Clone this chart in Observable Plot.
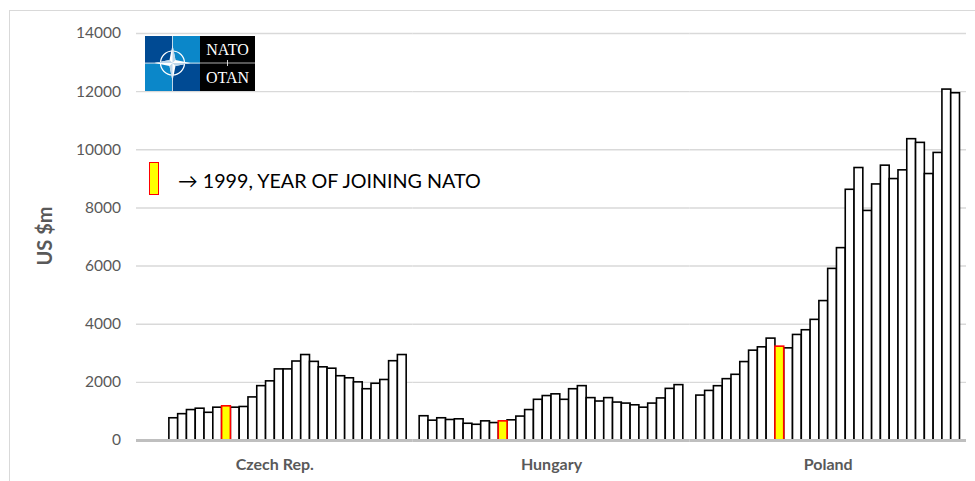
<!DOCTYPE html>
<html>
<head>
<meta charset="utf-8">
<script src="https://cdn.jsdelivr.net/npm/d3@7"></script>
<script src="https://cdn.jsdelivr.net/npm/@observablehq/plot@0.6"></script>
<style>
  html, body { margin: 0; padding: 0; background: #fff; }
  #wrap { position: relative; width: 975px; height: 481px; overflow: hidden; font-family: Lato, "Open Sans", sans-serif; }
  #wrap > svg.plot { position: absolute; left: 0; top: 0; }
  #border { position: absolute; left: 9px; top: 10px; width: 980px; height: 480px; border: 1px solid #d9d9d9; box-sizing: border-box; }
  #ylabel { position: absolute; left: 44px; top: 236px; transform: translate(-50%, -50%) rotate(-90deg); font-weight: 700; font-size: 20px; color: #595959; white-space: nowrap; }
  #legend-swatch { position: absolute; left: 149px; top: 162px; width: 10px; height: 33px; background: #ffff00; border: 1.5px solid #ff0000; box-sizing: border-box; }
  #legend-text { position: absolute; left: 178px; top: 169px; font-size: 19.7px; color: #000; white-space: nowrap; line-height: 24px; }
  #logo { position: absolute; left: 145px; top: 36px; }
</style>
</head>
<body>
<div id="wrap">
  <div id="border"></div>
</div>
<script>
// ---- data ----
const countries = ["Czech Rep.", "Hungary", "Poland"];
const years = [1990, 1991, 1992, 1993, 1994, 1995, 1996, 1997, 1998, 1999,
               2000, 2001, 2002, 2003, 2004, 2005, 2006, 2007, 2008, 2009,
               2010, 2011, 2012, 2013, 2014, 2015, 2016, 2017, 2018, 2019];
const joinYear = 1999;
const czech = [null, null, null, 765, 906, 1047, 1094, 953, 1129, 1176,
               1129, 1153, 1482, 1870, 2035, 2446, 2446, 2717, 2940, 2705,
               2517, 2470, 2211, 2140, 2000, 1764, 1952, 2082, 2728, 2940];
const hungary = [835, 682, 765, 706, 729, 576, 541, 659, 600, 659,
                 694, 823, 1047, 1400, 1529, 1588, 1400, 1764, 1870, 1458,
                 1341, 1458, 1305, 1270, 1211, 1129, 1270, 1447, 1776, 1905];
const poland = [1545, 1706, 1868, 2110, 2260, 2698, 3090, 3205, 3505, 3228,
                3170, 3631, 3793, 4150, 4796, 5903, 6617, 8624, 9373, 7897,
                8808, 9454, 8993, 9293, 10365, 10238, 9166, 9892, 12071, 11945];
const yTicks = [0, 2000, 4000, 6000, 8000, 10000, 12000, 14000];
const yLabel = "US $m";
const legendLabel = "\u2192 1999, YEAR OF JOINING NATO";

const series = [czech, hungary, poland];
const rows = [];
countries.forEach((c, i) => {
  series[i].forEach((v, j) => {
    if (v != null) rows.push({country: c, year: years[j], value: v});
  });
});

const ext = -6.5;
const chart = Plot.plot({
  width: 975,
  height: 481,
  marginLeft: 136,
  marginRight: 9,
  marginTop: 33,
  marginBottom: 41,
  style: {fontFamily: "Lato, 'Open Sans', sans-serif", color: "#595959", background: "transparent"},
  fx: {domain: countries, paddingInner: 0.047, paddingOuter: 0.0235, round: false, label: null, axis: null},
  x: {domain: years, padding: 0, round: false, axis: null},
  y: {domain: [0, 14000], axis: null},
  marks: [
    Plot.ruleY(yTicks.filter(d => d > 0), {stroke: "#d9d9d9", strokeWidth: 1.4, insetLeft: ext, insetRight: ext}),
    Plot.axisY(yTicks, {tickSize: 0, tickPadding: 22, fontSize: 15.5, fill: "#595959", label: null, tickFormat: d => String(d)}),
    Plot.barY(rows.filter(d => d.year !== joinYear), {fx: "country", x: "year", y: "value", fill: "#ffffff", stroke: "#000000", strokeWidth: 1.6}),
    Plot.barY(rows.filter(d => d.year === joinYear), {fx: "country", x: "year", y: "value", fill: "#ffff00", stroke: "#ff0000", strokeWidth: 1.6}),
    Plot.ruleY([0], {stroke: "#bfbfbf", strokeWidth: 3, insetLeft: ext, insetRight: ext}),
    Plot.axisFx({anchor: "bottom", tickSize: 0, tickPadding: 18, fontSize: 16, fontWeight: 700, fill: "#595959", label: null})
  ]
});
chart.classList.add("plot");
const wrap = document.getElementById("wrap");
wrap.appendChild(chart);

// y-axis title
const yl = document.createElement("div");
yl.id = "ylabel"; yl.textContent = yLabel; wrap.appendChild(yl);

// legend
const sw = document.createElement("div"); sw.id = "legend-swatch"; wrap.appendChild(sw);
const lt = document.createElement("div"); lt.id = "legend-text"; lt.textContent = legendLabel; wrap.appendChild(lt);

// NATO logo (decorative)
const logo = document.createElement("div");
logo.id = "logo";
logo.innerHTML = `
<svg width="110" height="55" viewBox="0 0 110 55" xmlns="http://www.w3.org/2000/svg">
  <rect x="0" y="0" width="27.5" height="27.5" fill="#004a93"/>
  <rect x="27.5" y="0" width="27.5" height="27.5" fill="#0b87c9"/>
  <rect x="0" y="27.5" width="27.5" height="27.5" fill="#0b87c9"/>
  <rect x="27.5" y="27.5" width="27.5" height="27.5" fill="#004a93"/>
  <rect x="55" y="0" width="55" height="55" fill="#000"/>
  <line x1="0" y1="27" x2="110" y2="27" stroke="#fff" stroke-width="0.8" opacity="0.85"/>
  <line x1="27.5" y1="0" x2="27.5" y2="55" stroke="#fff" stroke-width="0.8" opacity="0.85"/>
  <line x1="82.5" y1="24" x2="82.5" y2="30" stroke="#fff" stroke-width="0.8"/>
  <circle cx="27.5" cy="27" r="12" fill="none" stroke="#fff" stroke-width="1.2"/>
  <path d="M27.5,9 L30.5,24 L45.5,27 L30.5,30 L27.5,45 L24.5,30 L9.5,27 L24.5,24 Z" fill="#fff"/>
  <path d="M27.5,9 L30.5,24 L27.5,27 Z M45.5,27 L30.5,30 L27.5,27 Z M27.5,45 L24.5,30 L27.5,27 Z M9.5,27 L24.5,24 L27.5,27 Z" fill="#bcd6ea"/>
  <text x="82.5" y="19" text-anchor="middle" fill="#fff" font-family="'Liberation Serif', 'DejaVu Serif', serif" font-size="16">NATO</text>
  <text x="82.5" y="46.5" text-anchor="middle" fill="#fff" font-family="'Liberation Serif', 'DejaVu Serif', serif" font-size="16">OTAN</text>
</svg>`;
wrap.appendChild(logo);
</script>
</body>
</html>
